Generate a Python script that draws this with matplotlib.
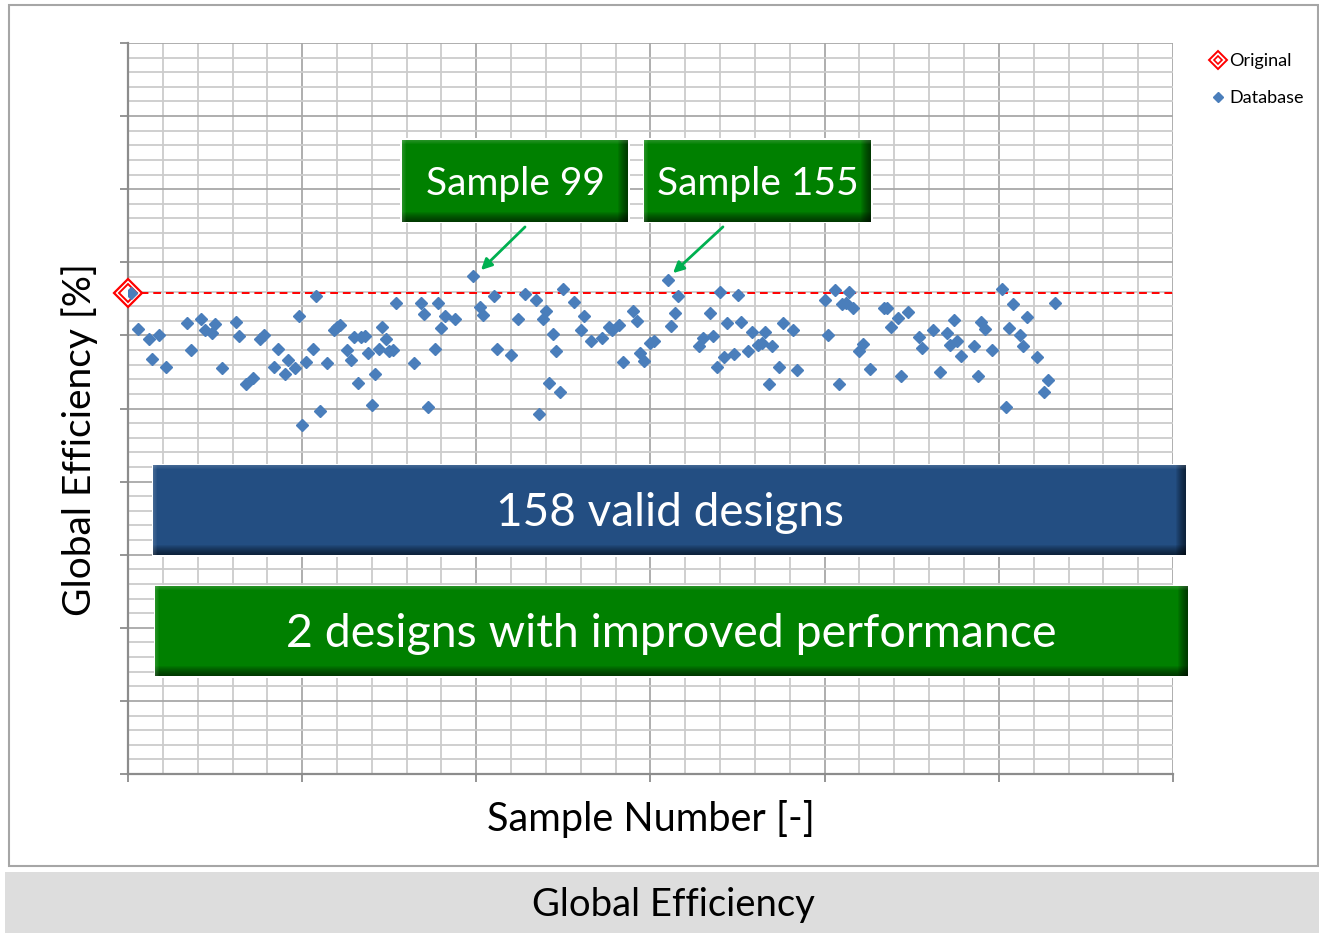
import matplotlib.pyplot as plt
from matplotlib.patches import Rectangle, FancyArrowPatch
from matplotlib.lines import Line2D
from matplotlib.ticker import MultipleLocator, NullFormatter

plt.rcParams['font.family'] = ['Lato', 'DejaVu Sans']

# sample numbers of the valid designs
sample_number = [1, 3, 6, 7, 9, 11, 17, 18, 21, 22, 24, 25, 27, 31, 32, 34, 36, 38, 39, 42, 43,
                 45, 46, 48, 49, 50, 51, 53, 54, 55, 57, 59, 60, 61, 63, 64, 65, 66, 67, 68, 69,
                 70, 71, 72, 73, 74, 75, 76, 77, 82, 84, 85, 86, 88,
                 89, 90, 91, 94, 99, 101, 102, 105, 106, 110, 112, 114, 117, 118, 119, 120, 121,
                 122, 123, 124, 125, 128, 130, 131, 133,
                 136, 138, 139, 141, 142, 145, 146, 147, 148, 150, 151, 155, 156, 157, 158, 164,
                 165, 167, 168, 169, 170, 171, 172, 174, 175, 176, 178, 179,
                 181, 182, 183, 184, 185, 187, 188, 191, 192, 200, 201, 203, 204, 205, 206, 207,
                 208, 210, 211, 213, 217, 218, 219, 221, 222, 224,
                 227, 228, 231, 233, 235, 236, 237, 238, 239, 243, 244, 245, 246, 248, 251, 252,
                 253, 254, 256, 257, 258, 261, 263, 264, 266]

global_efficiency = [65.8, 60.9, 59.5, 56.8, 60.0, 55.7, 61.7, 58.0, 62.3, 60.7, 60.3, 61.5, 55.6,
                     61.8, 59.9, 53.4, 54.2, 59.5, 60.1, 55.7, 58.1,
                     54.7, 56.6, 55.6, 62.7, 47.7, 56.4, 58.1, 65.4, 49.7, 56.2, 60.7, 61.1, 61.4,
                     58.0, 56.7, 59.8, 53.5, 59.8, 59.9, 57.6, 50.5, 54.7, 58.1, 61.2, 59.5, 57.8,
                     58.0, 64.5, 56.2, 64.5, 62.9, 50.2, 58.2,
                     64.5, 61.0, 62.6, 62.3, 68.1, 63.9, 62.8, 65.4, 58.2, 57.3, 62.2, 65.7, 64.8,
                     49.3, 62.2, 63.4, 53.5, 60.2, 57.8, 52.3, 66.4, 64.6, 60.7, 62.7, 59.3,
                     59.6, 61.2, 60.7, 61.4, 56.3, 63.3, 62.0, 57.6, 56.5, 58.9, 59.3, 67.6, 61.3,
                     63.0, 65.4, 58.5, 59.6, 63.1, 59.9, 55.7, 66.0, 57.0, 61.7, 57.4, 65.5, 61.8,
                     57.9, 60.5,
                     58.7, 58.9, 60.4, 53.4, 58.5, 55.7, 61.7, 60.7, 55.2, 64.8, 60.0, 66.2, 53.4,
                     64.3, 64.5, 66.0, 63.8, 57.8, 58.8, 55.4, 63.8, 63.7, 61.2, 62.4, 54.4, 63.2,
                     59.8, 58.3, 60.7, 55.0, 60.3, 58.7, 62.1, 59.3, 57.2, 58.5, 54.4, 61.9, 60.9,
                     58.0, 66.3, 50.2, 61.0, 64.3, 60.1, 58.5, 62.5, 57.1, 52.3, 53.9, 64.5]

original_sample = 0
original_efficiency = 65.8

W, H = 1319, 933
fig = plt.figure(figsize=(W / 100, H / 100), dpi=100)


def fx(x):
    return x / W


def fy(y):
    return 1 - y / H


def frect(x0, y0, x1, y1, **kw):
    r = Rectangle((fx(x0), fy(y1)), fx(x1) - fx(x0), fy(y0) - fy(y1),
                  transform=fig.transFigure, **kw)
    fig.add_artist(r)
    return r


# chart border and the caption band underneath
frect(9, 5, 1318, 866, facecolor='white', edgecolor='#a6a6a6', lw=1.5, zorder=0)
frect(5, 872, 1319, 933, facecolor='#dddddd', edgecolor='none', zorder=0)
fig.text(fx(673), fy(905), 'Global Efficiency', fontsize=27.5, ha='center', va='center')

ax = fig.add_axes([fx(128), fy(774), fx(1173) - fx(128), fy(43) - fy(774)])
ax.set_xlim(0, 300)
ax.set_ylim(0, 100)
ax.xaxis.set_major_locator(MultipleLocator(50))
ax.xaxis.set_minor_locator(MultipleLocator(10))
ax.yaxis.set_major_locator(MultipleLocator(10))
ax.yaxis.set_minor_locator(MultipleLocator(2))
ax.xaxis.set_major_formatter(NullFormatter())
ax.yaxis.set_major_formatter(NullFormatter())
ax.grid(which='minor', color='#cccccc', lw=1.3)
ax.grid(which='major', color='#a8a8a8', lw=1.3)
ax.set_axisbelow(True)
ax.tick_params(which='major', direction='out', length=6, width=1.3, color='#8c8c8c')
ax.tick_params(which='minor', length=0)
for s in ['top', 'right']:
    ax.spines[s].set_visible(False)
for s in ['left', 'bottom']:
    ax.spines[s].set_color('#8c8c8c')
    ax.spines[s].set_linewidth(1.6)

ax.axhline(original_efficiency, color='#ff0000', lw=1.4, ls=(0, (4, 2.5)), zorder=2)
ax.plot(original_sample, original_efficiency, 'D', ms=14.5, mfc='white', mec='#ff0000',
        mew=1.6, clip_on=False, zorder=3)
ax.plot(original_sample, original_efficiency, 'D', ms=9.5, mfc='none', mec='#ff0000',
        mew=1.4, clip_on=False, zorder=3)
ax.plot(sample_number, global_efficiency, 'D', ms=6.3, color='#4a7ebb', ls='none', zorder=4)

ax.set_xlabel('Sample Number [-]', fontsize=28.5, labelpad=9)
ax.set_ylabel('Global Efficiency [%]', fontsize=28, labelpad=12, y=0.457)

# legend
h_orig = (Line2D([], [], marker='D', ms=9, mfc='white', mec='#ff0000', mew=1.4, ls='none'),
          Line2D([], [], marker='D', ms=4.5, mfc='none', mec='#ff0000', mew=1.2, ls='none'))
h_db = Line2D([], [], marker='D', ms=5.5, color='#4a7ebb', ls='none')
fig.legend([h_orig, h_db], ['Original', 'Database'], loc='upper left',
           bbox_to_anchor=(fx(1204), fy(46)), frameon=False, fontsize=13,
           handlelength=0.8, handletextpad=0.2, labelspacing=1.15, borderaxespad=0)


def bevel_box(x0, y0, x1, y1, face, text, size, dy):
    frect(x0 - 1.5, y0 - 1.5, x1 + 1.5, y1 + 1.5, facecolor='white', edgecolor='none', zorder=5)
    frect(x0, y0, x1, y1, facecolor=face, edgecolor='none', zorder=5)
    for k in range(1, 11):
        frect(x0, y1 - k, x1, y1, facecolor='black', edgecolor='none', alpha=0.07, zorder=6)
        frect(x1 - k, y0, x1, y1, facecolor='black', edgecolor='none', alpha=0.07, zorder=6)
    for k in range(1, 5):
        frect(x0, y0, x1, y0 + k, facecolor='white', edgecolor='none', alpha=0.04, zorder=6)
        frect(x0, y0, x0 + k, y1, facecolor='white', edgecolor='none', alpha=0.04, zorder=6)
    fig.text(fx((x0 + x1) / 2), fy((y0 + y1) / 2 + dy), text, color='white', fontsize=size,
             ha='center', va='center', zorder=7)


bevel_box(402, 140, 628, 222, '#008000', 'Sample 99', 28, 3)
bevel_box(644, 140, 871, 222, '#008000', 'Sample 155', 28, 3)
bevel_box(153, 465, 1186, 555, '#234e82', '158 valid designs', 33, 3)
bevel_box(155, 586, 1188, 676, '#008000', '2 designs with improved performance', 33.5, 3)

for (xa, ya), (xb, yb) in [((527, 225), (479, 272)), ((725, 225), (671, 275))]:
    fig.add_artist(FancyArrowPatch((fx(xa), fy(ya)), (fx(xb), fy(yb)),
                                   transform=fig.transFigure, arrowstyle='-|>',
                                   mutation_scale=16, color='#00b050', lw=2, zorder=8))

fig.savefig('out.png', dpi=100)
